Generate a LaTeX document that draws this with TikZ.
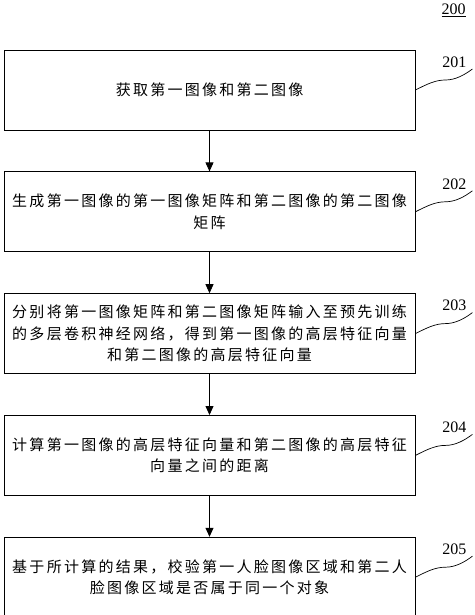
\documentclass[tikz,border=0pt]{standalone}
\usepackage{fontspec}
\setmainfont{Liberation Serif}
\newfontfamily\cjk[LetterSpace=15]{Noto Sans CJK SC}
\usetikzlibrary{positioning, calc, arrows.meta}

\begin{document}
\begin{tikzpicture}[x=1pt, y=-1pt,
	stepbox/.style={draw, line width=0.8pt, minimum width=411pt, minimum height=80pt,
	inner sep=0pt, align=center, font=\cjk\fontsize{15}{21.5}\selectfont},
	num/.style={font=\fontsize{16}{16}\selectfont, inner sep=0pt}]
\useasboundingbox (0,0) rectangle (474,615);
\node [stepbox] (1) at (209.5,90) {获取第一图像和第二图像};
\node [stepbox, below=41pt of 1] (2) {生成第一图像的第一图像矩阵和第二图像的第二图像\\矩阵};
\node [stepbox, below=41pt of 2] (3) {分别将第一图像矩阵和第二图像矩阵输入至预先训练\\的多层卷积神经网络，得到第一图像的高层特征向量\\和第二图像的高层特征向量};
\node [stepbox, below=41pt of 3] (4) {计算第一图像的高层特征向量和第二图像的高层特征\\向量之间的距离};
\node [stepbox, below=41pt of 4] (5) {基于所计算的结果，校验第一人脸图像区域和第二人\\脸图像区域是否属于同一个对象};
\node [num] (0) at (453.5,10) {\underline{200}};
\foreach \a/\b in {1/2, 2/3, 3/4, 4/5}
	\draw [-{Triangle[length=9pt,width=8pt]}, line width=0.8pt] (\a) -- (\b);
% wavy leaders
\foreach \n in {1,...,5} {
	\coordinate (w\n) at ($(\n.east)+(57,-21)$);
	\draw [line width=0.7pt] (\n.east) .. controls +(12,-6) and +(-10,0) .. ($(\n.east)+(30,-10)$)
		.. controls +(10,0) and +(-8,6) .. (w\n);
	\node [num] (l\n) at ($(\n.east)+(39,-28)$) {20\n};
}
\end{tikzpicture}
\end{document}
